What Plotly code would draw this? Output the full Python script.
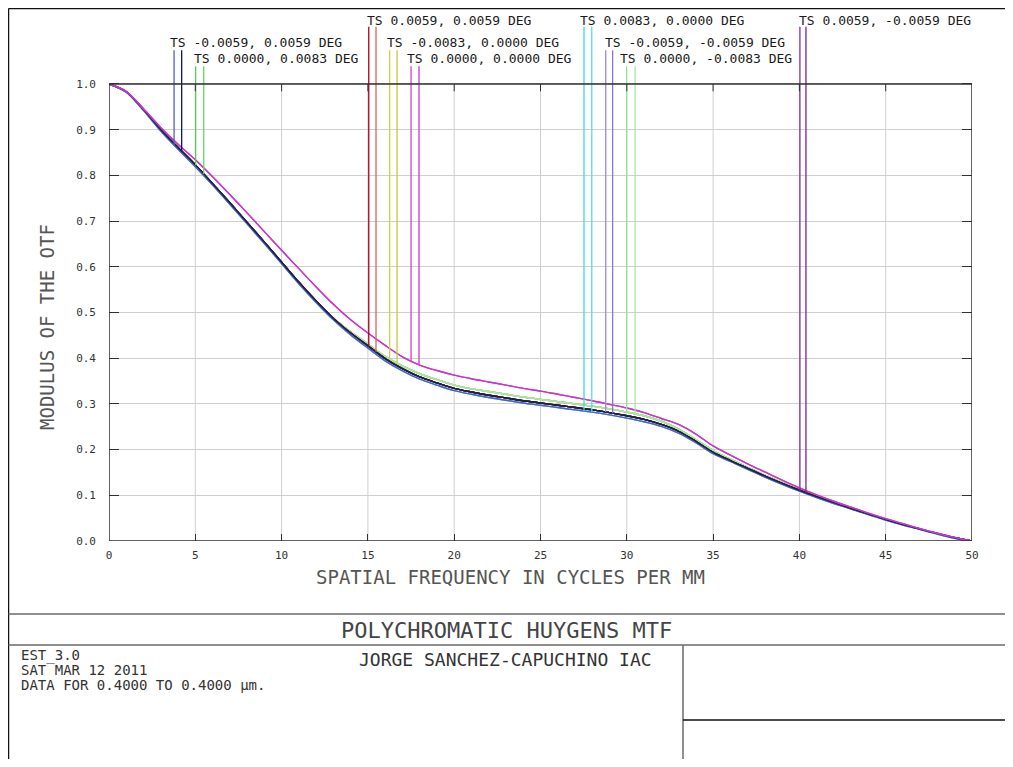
import numpy as np
import plotly.graph_objects as go

# ---------------- data ----------------
FREQ = list(range(0, 51))

MTF_MAIN = [1.000, 0.983, 0.944, 0.900, 0.861, 0.823, 0.782, 0.740, 0.697, 0.654,
            0.610, 0.566, 0.525, 0.487, 0.455, 0.427, 0.399, 0.377, 0.359, 0.346,
            0.334, 0.326, 0.319, 0.313, 0.307, 0.302, 0.297, 0.292, 0.287, 0.281,
            0.274, 0.266, 0.255, 0.240, 0.218, 0.194, 0.176, 0.159, 0.142, 0.126,
            0.111, 0.097, 0.084, 0.071, 0.059, 0.047, 0.036, 0.026, 0.016, 0.007, 0.000]

MTF_HIGH = [1.000, 0.983, 0.944, 0.900, 0.861, 0.823, 0.782, 0.740, 0.697, 0.654,
            0.610, 0.566, 0.525, 0.488, 0.458, 0.431, 0.404, 0.383, 0.366, 0.353,
            0.341, 0.333, 0.327, 0.321, 0.315, 0.310, 0.305, 0.300, 0.295, 0.289,
            0.282, 0.274, 0.262, 0.245, 0.222, 0.198, 0.179, 0.161, 0.144, 0.128,
            0.112, 0.097, 0.084, 0.071, 0.059, 0.047, 0.036, 0.026, 0.016, 0.007, 0.000]

MTF_LOW = [1.000, 0.982, 0.942, 0.897, 0.857, 0.819, 0.779, 0.737, 0.694, 0.651,
           0.607, 0.563, 0.522, 0.484, 0.451, 0.422, 0.394, 0.372, 0.354, 0.341,
           0.329, 0.321, 0.314, 0.308, 0.302, 0.297, 0.292, 0.287, 0.282, 0.276,
           0.269, 0.261, 0.251, 0.236, 0.215, 0.191, 0.174, 0.157, 0.140, 0.124,
           0.109, 0.095, 0.082, 0.070, 0.058, 0.046, 0.035, 0.025, 0.015, 0.006, 0.000]

MTF_AXIAL = [1.000, 0.984, 0.946, 0.905, 0.868, 0.834, 0.797, 0.758, 0.718, 0.677,
             0.636, 0.596, 0.556, 0.518, 0.484, 0.455, 0.428, 0.403, 0.385, 0.373,
             0.363, 0.355, 0.348, 0.341, 0.334, 0.328, 0.321, 0.314, 0.307, 0.299,
             0.291, 0.281, 0.268, 0.255, 0.234, 0.208, 0.188, 0.169, 0.151, 0.133,
             0.116, 0.101, 0.087, 0.074, 0.061, 0.049, 0.038, 0.027, 0.017, 0.008, 0.000]

FIELD_NAMES = ["TS -0.0059, 0.0059 DEG", "TS 0.0000, 0.0083 DEG",
               "TS 0.0059, 0.0059 DEG", "TS -0.0083, 0.0000 DEG",
               "TS 0.0000, 0.0000 DEG", "TS 0.0083, 0.0000 DEG",
               "TS -0.0059, -0.0059 DEG", "TS 0.0000, -0.0083 DEG",
               "TS 0.0059, -0.0059 DEG"]
FIELD_T = [MTF_LOW, MTF_HIGH, MTF_MAIN, MTF_HIGH, MTF_AXIAL, MTF_LOW, MTF_MAIN, MTF_HIGH, MTF_MAIN]
FIELD_S = [MTF_MAIN, MTF_HIGH, MTF_MAIN, MTF_HIGH, MTF_AXIAL, MTF_LOW, MTF_MAIN, MTF_HIGH, MTF_MAIN]

X_TICKS = [0, 5, 10, 15, 20, 25, 30, 35, 40, 45, 50]
X_TICK_TEXT = ["0", "5", "10", "15", "20", "25", "30", "35", "40", "45", "50"]
Y_TICKS = [0.0, 0.1, 0.2, 0.3, 0.4, 0.5, 0.6, 0.7, 0.8, 0.9, 1.0]
Y_TICK_TEXT = ["0.0", "0.1", "0.2", "0.3", "0.4", "0.5", "0.6", "0.7", "0.8", "0.9", "1.0"]

TITLE = "POLYCHROMATIC HUYGENS MTF"
INFO_LINES = ["EST_3.0", "SAT MAR 12 2011", "DATA FOR 0.4000 TO 0.4000 \u00b5m."]
AUTHOR = "JORGE SANCHEZ-CAPUCHINO IAC"
X_TITLE = "SPATIAL FREQUENCY IN CYCLES PER MM"
Y_TITLE = "MODULUS OF THE OTF"

# ---------------- styles / positions ----------------
COLORS_T = ["#5a5ac8", "#50d050", "#a80020", "#d0d040", "#d040d0",
            "#40d8d8", "#9a88d8", "#98e098", "#8a2aa8"]
COLORS_S = ["#12127a", "#60d860", "#e06060", "#c8c838", "#c838c8",
            "#50e0e0", "#8878c8", "#a8e8a8", "#7a2098"]
CURVE_S_COLORS = ["#202040", "#60d860", "#802020", "#c8c838", "#c838c8",
                  "#50e0e0", "#404040", "#a8e8a8", "#202020"]
MARK_FREQ_T = [3.77, 5.02, 15.05, 16.26, 17.50, 27.52, 28.78, 29.99, 40.03]
MARK_FREQ_S = [4.21, 5.49, 15.47, 16.69, 17.96, 27.97, 29.18, 30.48, 40.38]
LABEL_ROW = [2, 3, 1, 2, 3, 1, 2, 3, 1]
LABEL_X = [3.42, 4.81, 14.83, 15.99, 17.15, 27.17, 28.62, 29.49, 39.86]
ROW_TEXT_Y = {1: 1.140, 2: 1.090, 3: 1.055}
ROW_LINE_TOP = {1: 1.125, 2: 1.074, 3: 1.039}
DRAW_ORDER = [1, 3, 7, 2, 6, 8, 5, 0, 4]
INFO_Y = [655, 670, 685]

MONO = "DejaVu Sans Mono"
W, H = 997, 751
ML, MR, MT, MB = 101, 33, 1, 218
Y_TOP = 1.1641


def px_x(ref):
    return (ref - 109) / 863.0


def px_y(ref):
    return (541 - ref) / 532.0


fig = go.Figure()

# MTF curves
for i in DRAW_ORDER:
    fig.add_trace(go.Scatter(x=FREQ, y=FIELD_T[i], mode="lines",
                             line=dict(color=COLORS_T[i], width=1.4, shape="spline", smoothing=0.8),
                             name=FIELD_NAMES[i] + " T", showlegend=False))
    fig.add_trace(go.Scatter(x=FREQ, y=FIELD_S[i], mode="lines",
                             line=dict(color=CURVE_S_COLORS[i], width=1.4, shape="spline", smoothing=0.8),
                             name=FIELD_NAMES[i] + " S", showlegend=False))

# legend marker lines (from label down to curve)
for i in range(9):
    top = ROW_LINE_TOP[LABEL_ROW[i]]
    for f, arr, col in ((MARK_FREQ_T[i], FIELD_T[i], COLORS_T[i]),
                        (MARK_FREQ_S[i], FIELD_S[i], COLORS_S[i])):
        yb = float(np.interp(f, FREQ, arr))
        fig.add_trace(go.Scatter(x=[f, f], y=[yb, top], mode="lines",
                                 line=dict(color=col, width=1.3),
                                 showlegend=False, hoverinfo="skip"))

shapes = []
# vertical grid lines within the box
for xv in X_TICKS[1:-1]:
    shapes.append(dict(type="line", xref="x", yref="y", x0=xv, x1=xv, y0=0, y1=1,
                       line=dict(color="#cfcfcf", width=1), layer="below"))
    # top ticks
    shapes.append(dict(type="line", xref="x", yref="y", x0=xv, x1=xv, y0=1, y1=0.984,
                       line=dict(color="#303030", width=1)))
# plot box
shapes.append(dict(type="rect", xref="x", yref="y", x0=0, x1=50, y0=0, y1=1,
                   line=dict(color="#303030", width=1.5)))
# outer frame and title block
frame = dict(color="#111111", width=1.5)
block = dict(color="#6a6a6a", width=1.5)
shapes += [
    dict(type="line", xref="paper", yref="paper", x0=px_x(8.5), x1=px_x(8.5),
         y0=px_y(8.5), y1=px_y(780), line=frame),
    dict(type="line", xref="paper", yref="paper", x0=px_x(8.5), x1=px_x(1020),
         y0=px_y(8.5), y1=px_y(8.5), line=frame),
    dict(type="line", xref="paper", yref="paper", x0=px_x(8.5), x1=px_x(1020),
         y0=px_y(614), y1=px_y(614), line=block),
    dict(type="line", xref="paper", yref="paper", x0=px_x(8.5), x1=px_x(1020),
         y0=px_y(645), y1=px_y(645), line=block),
    dict(type="line", xref="paper", yref="paper", x0=px_x(683), x1=px_x(683),
         y0=px_y(645), y1=px_y(780), line=block),
    dict(type="line", xref="paper", yref="paper", x0=px_x(683), x1=px_x(1020),
         y0=px_y(720), y1=px_y(720), line=dict(color="#111111", width=1.5)),
]

annotations = []
for i in range(9):
    annotations.append(dict(x=LABEL_X[i], y=ROW_TEXT_Y[LABEL_ROW[i]], xref="x", yref="y",
                            text=FIELD_NAMES[i], showarrow=False, xanchor="left",
                            yanchor="middle", font=dict(family=MONO, size=13, color="#1a1a1a")))
annotations += [
    dict(x=px_x(510), y=px_y(577), xref="paper", yref="paper", text=X_TITLE,
         xanchor="center", yanchor="middle",
         showarrow=False, font=dict(family=MONO, size=19, color="#555555")),
    dict(x=px_x(47), y=px_y(327), xref="paper", yref="paper", text=Y_TITLE,
         xanchor="center", yanchor="middle",
         textangle=-90, showarrow=False, font=dict(family=MONO, size=19, color="#555555")),
    dict(x=px_x(506), y=px_y(630), xref="paper", yref="paper", text=TITLE,
         xanchor="center", yanchor="middle",
         showarrow=False, font=dict(family=MONO, size=22, color="#444444")),
    dict(x=px_x(357), y=px_y(659), xref="paper", yref="paper", text=AUTHOR,
         xanchor="left", yanchor="middle", showarrow=False,
         font=dict(family=MONO, size=18, color="#333333")),
]
for txt, yy in zip(INFO_LINES, INFO_Y):
    annotations.append(dict(x=px_x(20), y=px_y(yy), xref="paper", yref="paper", text=txt,
                            xanchor="left", yanchor="middle", showarrow=False, borderpad=0,
                            font=dict(family=MONO, size=14, color="#333333")))

fig.update_layout(
    width=W, height=H, margin=dict(l=ML, r=MR, t=MT, b=MB),
    paper_bgcolor="white", plot_bgcolor="white",
    shapes=shapes, annotations=annotations, showlegend=False,
    xaxis=dict(range=[0, 50], tickvals=X_TICKS, ticktext=X_TICK_TEXT, showgrid=False,
               zeroline=False, showline=False, ticks="inside", ticklen=7,
               tickcolor="#303030", ticklabelstandoff=6,
               tickfont=dict(family=MONO, size=11, color="#333333")),
    yaxis=dict(range=[0, Y_TOP], tickvals=Y_TICKS, ticktext=Y_TICK_TEXT, showgrid=True,
               gridcolor="#cfcfcf", gridwidth=1, zeroline=False, showline=False,
               ticks="inside", ticklen=10, tickcolor="#303030", mirror="ticks",
               ticklabelstandoff=12,
               tickfont=dict(family=MONO, size=11, color="#333333")),
)

fig.write_html("out.html")
